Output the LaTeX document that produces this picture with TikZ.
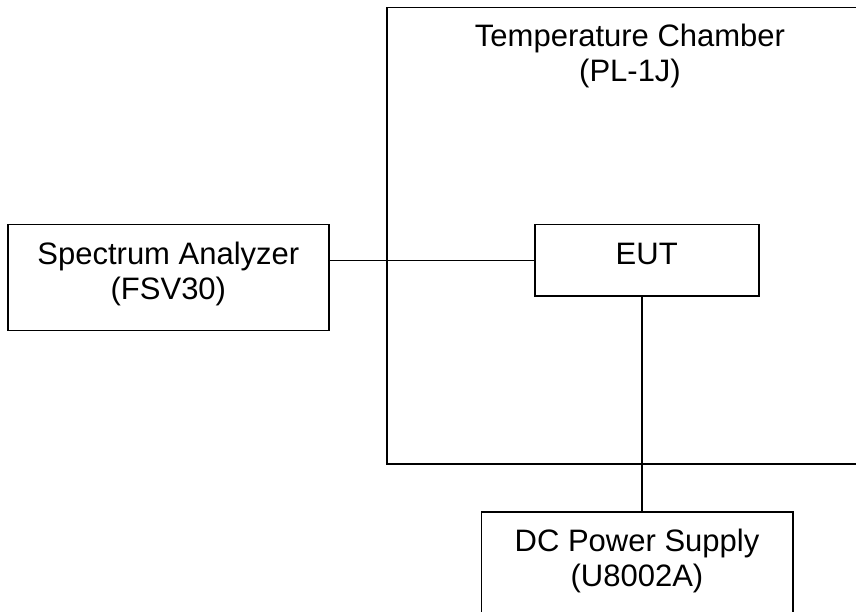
\documentclass[tikz,border=0pt]{standalone}
\usepackage{fontspec}
\setmainfont{Liberation Sans}
\begin{document}
\begin{tikzpicture}[x=1pt,y=-1pt,
  txt/.style={font=\fontsize{31}{35}\selectfont},
  box/.style={draw, line width=1.6pt, inner sep=0pt, outer sep=0pt, txt},
  wire/.style={line width=1.6pt},
  lbl/.style={inner sep=0pt, outer sep=0pt, txt}]
\useasboundingbox (0,0) rectangle (856,612);
\clip (0,0) rectangle (856,612);
% chamber outline (right side beyond the page)
\draw[wire] (862,7.5) -- (386.7,7.5) -- (386.7,464) -- (862,464);
\node[lbl, anchor=base] (chamberlabel) at (630,46.7)
  {\begin{tabular}[t]{@{}c@{}}Temperature Chamber\\(PL-1J)\end{tabular}};
\node[box, minimum width=320.7pt, text height=40.3pt, text depth=65.3pt, anchor=north west] (SA) at (8,224.7)
  {\begin{tabular}[t]{@{}c@{}}Spectrum Analyzer\\(FSV30)\end{tabular}};
\node[box, minimum width=224pt, text height=39.6pt, text depth=31.7pt, anchor=north west] (EUT) at (534.7,224.7) {EUT};
\node[box, minimum width=311.4pt, text height=39.7pt, text depth=75pt, anchor=north west] (DC) at (481.3,512)
  {\begin{tabular}[t]{@{}c@{}}DC Power Supply\\(U8002A)\end{tabular}};
\draw[wire] (EUT.west -| SA.east) -- (EUT.west);
\draw[wire] ([xshift=-5pt]EUT.south) -- ([xshift=-5pt]EUT.south |- DC.north);
\end{tikzpicture}
\end{document}
